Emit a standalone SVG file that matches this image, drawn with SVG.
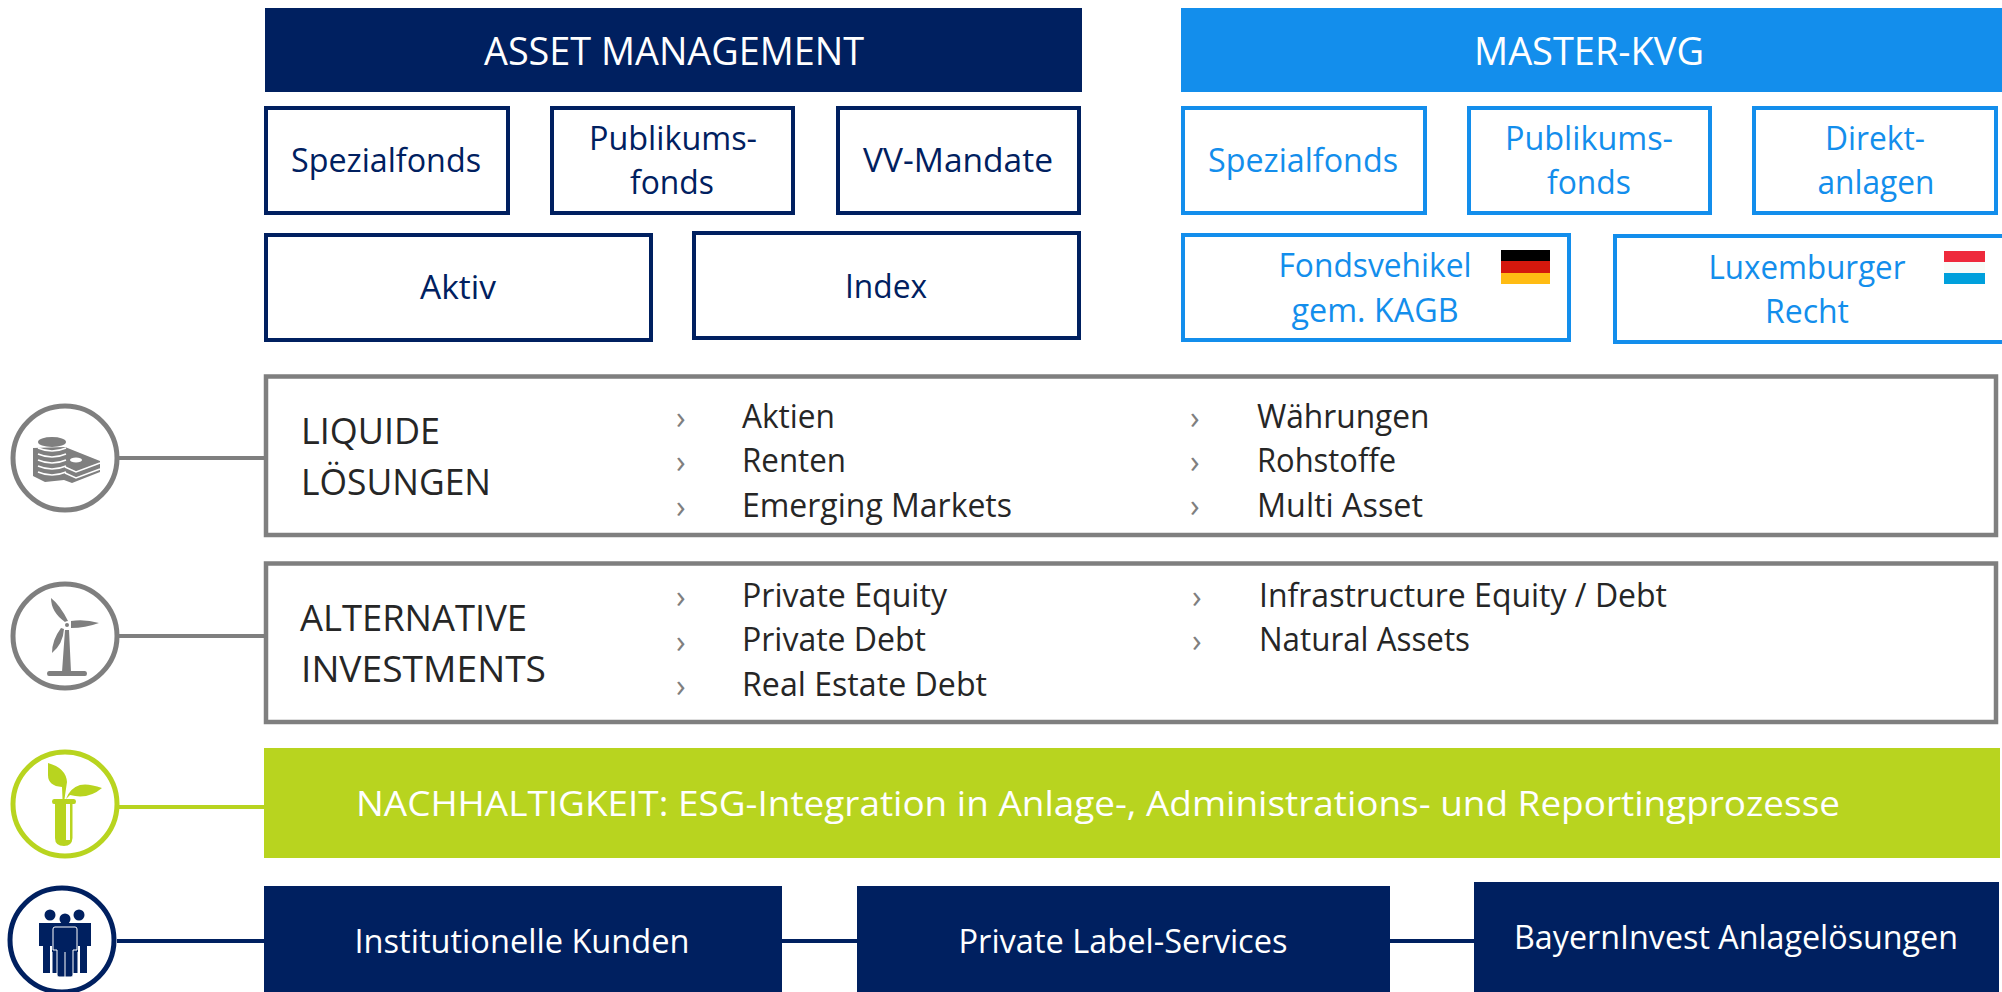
<svg xmlns="http://www.w3.org/2000/svg" width="2002" height="992" viewBox="0 0 2002 992">
<style>
text{font-family:"Open Sans","Noto Sans","DejaVu Sans",sans-serif;font-size:33px;text-anchor:middle}
.n{fill:#002060}.b{fill:#138eec}.w{fill:#fff}
.k{fill:#262626;text-anchor:start}.h{font-size:36px}.l{font-size:32px}
.t{font-size:38px}.m{font-size:35px}
.bn{fill:#fff;stroke:#002060;stroke-width:4}
.bb{fill:#fff;stroke:#138eec;stroke-width:4}
.bg{fill:#fff;stroke:#7f7f7f;stroke-width:4.500}
.ch{fill:#7f7f7f;text-anchor:start;font-size:32px}
.g{fill:#7f7f7f}.c{fill:#fff;stroke-width:5}
</style>
<g id="connectors" fill="none" stroke-width="4">
<path d="M119 458H265M119 636H265" stroke="#7f7f7f"/>
<path d="M117 807H265" stroke="#b8d41f"/>
<path d="M117 941H265M781 941H857M1389 941H1474" stroke="#002060"/>
</g>
<g id="asset-management">
<rect x="265" y="8" width="817" height="84" fill="#002060"/>
<text class="w t" x="674" y="65" textLength="380" lengthAdjust="spacingAndGlyphs">ASSET MANAGEMENT</text>
</g>
<g id="am-spezialfonds"><rect class="bn" x="266" y="108" width="242" height="105"/><text class="n" x="386" y="172" textLength="190" lengthAdjust="spacingAndGlyphs">Spezialfonds</text></g>
<g id="am-publikumsfonds"><rect class="bn" x="552" y="108" width="241" height="105"/><text class="n" x="673" y="150" textLength="168" lengthAdjust="spacingAndGlyphs">Publikums-</text><text class="n" x="672" y="194" textLength="84" lengthAdjust="spacingAndGlyphs">fonds</text></g>
<g id="am-vv-mandate"><rect class="bn" x="838" y="108" width="241" height="105"/><text class="n" x="958" y="172" textLength="190" lengthAdjust="spacingAndGlyphs">VV-Mandate</text></g>
<g id="am-aktiv"><rect class="bn" x="266" y="235" width="385" height="105"/><text class="n" x="458" y="299" textLength="76" lengthAdjust="spacingAndGlyphs">Aktiv</text></g>
<g id="am-index"><rect class="bn" x="694" y="233" width="385" height="105"/><text class="n" x="886" y="298" textLength="82" lengthAdjust="spacingAndGlyphs">Index</text></g>

<g id="master-kvg"><rect x="1181" y="8" width="821" height="84" fill="#138eec"/><text class="w t" x="1589" y="65" textLength="230" lengthAdjust="spacingAndGlyphs">MASTER-KVG</text></g>
<g id="mk-spezialfonds"><rect class="bb" x="1183" y="108" width="242" height="105"/><text class="b" x="1303" y="172" textLength="190" lengthAdjust="spacingAndGlyphs">Spezialfonds</text></g>
<g id="mk-publikumsfonds"><rect class="bb" x="1469" y="108" width="241" height="105"/><text class="b" x="1589" y="150" textLength="168" lengthAdjust="spacingAndGlyphs">Publikums-</text><text class="b" x="1589" y="194" textLength="84" lengthAdjust="spacingAndGlyphs">fonds</text></g>
<g id="mk-direktanlagen"><rect class="bb" x="1754" y="108" width="242" height="105"/><text class="b" x="1875" y="150" textLength="100" lengthAdjust="spacingAndGlyphs">Direkt-</text><text class="b" x="1876" y="194" textLength="117" lengthAdjust="spacingAndGlyphs">anlagen</text></g>
<g id="mk-fondsvehikel"><rect class="bb" x="1183" y="235" width="386" height="105"/><text class="b" x="1375" y="277" textLength="193" lengthAdjust="spacingAndGlyphs">Fondsvehikel</text><text class="b" x="1375" y="322" textLength="167" lengthAdjust="spacingAndGlyphs">gem. KAGB</text>
<rect x="1501" y="250" width="49" height="11" fill="#000"/><rect x="1501" y="261" width="49" height="12" fill="#d4180d"/><rect x="1501" y="273" width="49" height="11" fill="#ffbc13"/></g>
<g id="mk-luxemburger"><rect class="bb" x="1615" y="236" width="391" height="106"/><text class="b" x="1807" y="279" textLength="197" lengthAdjust="spacingAndGlyphs">Luxemburger</text><text class="b" x="1807" y="323" textLength="84" lengthAdjust="spacingAndGlyphs">Recht</text>
<rect x="1944" y="251" width="41" height="11" fill="#ee2a3c"/><rect x="1944" y="262" width="41" height="11" fill="#f8fbf8"/><rect x="1944" y="273" width="41" height="11" fill="#00a0dc"/></g>

<g id="liquide"><circle class="c" cx="65" cy="458" r="52" stroke="#7f7f7f"/>
<path class="g" d="M65 447L100 461V472L72 483L64 480L45 482L33 476V448Z"/>
<ellipse cx="52" cy="442" rx="14" ry="5" class="g"/>
<path d="M38 448Q52 454 66 448M38 454Q52 460 66 454M38 460Q52 466 66 460M38 466Q52 472 66 466M38 472Q52 478 66 472" stroke="#fff" stroke-width="1.500" fill="none"/>
<path d="M65 467L76 472L100 463M65 473L76 478L100 469" stroke="#fff" stroke-width="1.500" fill="none"/>
<ellipse cx="76" cy="460" rx="6" ry="2.500" fill="#fff"/>
<rect class="bg" x="266" y="376.500" width="1730" height="158.500"/>
<text class="k h" x="301" y="444" textLength="139" lengthAdjust="spacingAndGlyphs">LIQUIDE</text><text class="k h" x="301" y="495" textLength="190" lengthAdjust="spacingAndGlyphs">LÖSUNGEN</text>
<text class="ch" x="676" y="429">›</text><text class="ch" x="676" y="473">›</text><text class="ch" x="676" y="518">›</text>
<text class="k l" x="742" y="428" textLength="93" lengthAdjust="spacingAndGlyphs">Aktien</text><text class="k l" x="742" y="472" textLength="104" lengthAdjust="spacingAndGlyphs">Renten</text><text class="k l" x="742" y="517" textLength="270" lengthAdjust="spacingAndGlyphs">Emerging Markets</text>
<text class="ch" x="1190" y="429">›</text><text class="ch" x="1190" y="473">›</text><text class="ch" x="1190" y="517">›</text>
<text class="k l" x="1257" y="428" textLength="172.500" lengthAdjust="spacingAndGlyphs">Währungen</text><text class="k l" x="1257" y="472" textLength="139" lengthAdjust="spacingAndGlyphs">Rohstoffe</text><text class="k l" x="1257" y="517" textLength="166" lengthAdjust="spacingAndGlyphs">Multi Asset</text></g>

<g id="alternative"><circle class="c" cx="65" cy="636" r="52" stroke="#7f7f7f"/>
<path class="g" d="M62 672L65 630H69L71 672ZM49 671H85Q87 671 87 673.500Q87 676 85 676H49Q47 676 47 673.500Q47 671 49 671ZM65 622Q51 612 51 598Q60 605 68 621ZM71 621Q85 619 99 623Q85 628 71 628ZM64 629Q63 644 52 653Q52 640 61 628Z"/>
<circle cx="67" cy="625" r="3.500" fill="#fff"/><circle cx="67" cy="625" r="2" class="g"/>
<rect class="bg" x="266" y="563.500" width="1730" height="158.500"/>
<text class="k h" x="300" y="631" textLength="227" lengthAdjust="spacingAndGlyphs">ALTERNATIVE</text><text class="k h" x="301" y="682" textLength="245" lengthAdjust="spacingAndGlyphs">INVESTMENTS</text>
<text class="ch" x="676" y="608">›</text><text class="ch" x="676" y="653">›</text><text class="ch" x="676" y="697">›</text>
<text class="k l" x="742" y="607" textLength="205" lengthAdjust="spacingAndGlyphs">Private Equity</text><text class="k l" x="742" y="651" textLength="184" lengthAdjust="spacingAndGlyphs">Private Debt</text><text class="k l" x="742" y="696" textLength="245" lengthAdjust="spacingAndGlyphs">Real Estate Debt</text>
<text class="ch" x="1192" y="608">›</text><text class="ch" x="1192" y="652">›</text>
<text class="k l" x="1259" y="607" textLength="408" lengthAdjust="spacingAndGlyphs">Infrastructure Equity / Debt</text><text class="k l" x="1259" y="651" textLength="211" lengthAdjust="spacingAndGlyphs">Natural Assets</text></g>

<g id="nachhaltigkeit"><circle class="c" cx="65" cy="804" r="52" stroke="#b8d41f"/>
<path fill="#b8d41f" d="M54 799H74Q76 799 76 801.500Q76 804 74 804H72.500V838Q72 846 64 846Q55 846 55 838V804H54Q52 804 52 801.500Q52 799 54 799Z"/>
<rect x="66" y="804" width="4" height="36" fill="#fff"/>
<path fill="#b8d41f" d="M48 763Q66 768 67 782L64.500 799H62.500L62 787Q48 786 48 775Z"/>
<path fill="#b8d41f" d="M102 788Q88 783 80 785Q70 788 66 799L70 795Q88 800 102 788Z"/>
<rect x="264" y="748" width="1736" height="110" fill="#b8d41f"/>
<text class="w m" x="1098" y="816" textLength="1484" lengthAdjust="spacingAndGlyphs">NACHHALTIGKEIT: ESG-Integration in Anlage-, Administrations- und Reportingprozesse</text></g>

<g id="kunden-icon"><circle class="c" cx="62" cy="940" r="52" stroke="#002060"/>
<g fill="#002060"><circle cx="50" cy="915" r="5.500"/><circle cx="79" cy="915" r="5.500"/>
<path d="M39 923H91V946H87V973H80V946H50V973H43V946H39Z"/><rect x="52" y="946" width="26" height="27"/></g>
<circle cx="65" cy="919" r="5.500" fill="#002060"/>
<path d="M55 927H75Q77 927 77 929V950H73V975Q73 977 71 977H59Q57 977 57 975V950H53V929Q53 927 55 927Z" fill="#002060" stroke="#fff" stroke-width="1"/>
<path d="M52 952V973M78 952V973M65 952V977" stroke="#fff" stroke-width="1"/></g>
<g id="institutionelle"><rect x="264" y="886" width="518" height="106" fill="#002060"/><text class="w" x="522" y="953" textLength="335" lengthAdjust="spacingAndGlyphs">Institutionelle Kunden</text></g>
<g id="private-label"><rect x="857" y="886" width="533" height="106" fill="#002060"/><text class="w" x="1123" y="953" textLength="329" lengthAdjust="spacingAndGlyphs">Private Label-Services</text></g>
<g id="bayerninvest"><rect x="1474" y="882" width="525" height="110" fill="#002060"/><text class="w" x="1736" y="949" textLength="444" lengthAdjust="spacingAndGlyphs">BayernInvest Anlagelösungen</text></g>
</svg>
